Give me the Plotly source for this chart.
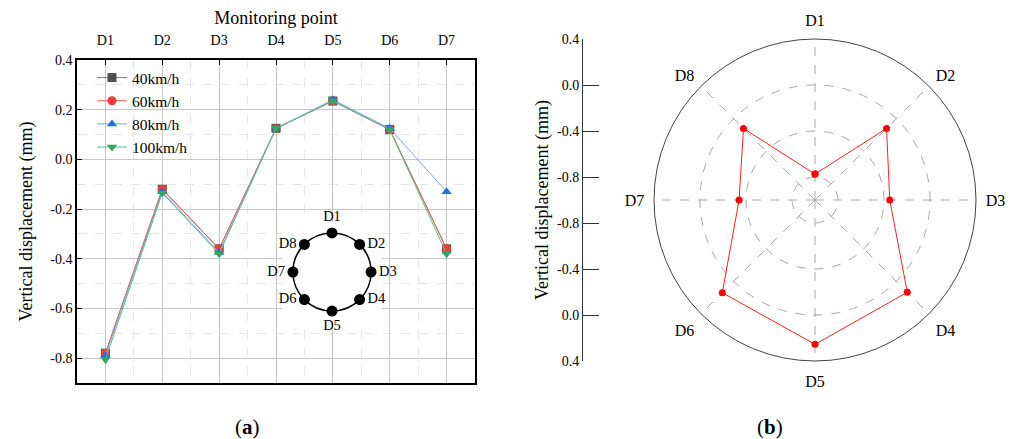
import numpy as np
import plotly.graph_objects as go

# ---------------- data ----------------
points = ["D1", "D2", "D3", "D4", "D5", "D6", "D7"]
s40 = [-0.78, -0.12, -0.36, 0.125, 0.235, 0.12, -0.36]
s60 = [-0.78, -0.12, -0.36, 0.125, 0.235, 0.12, -0.36]
s80 = [-0.79, -0.13, -0.375, 0.125, 0.24, 0.125, -0.13]
s100 = [-0.805, -0.135, -0.38, 0.125, 0.235, 0.12, -0.38]
series_names = ["40km/h", "60km/h", "80km/h", "100km/h"]
y_ticks = [0.4, 0.2, 0.0, -0.2, -0.4, -0.6, -0.8]

ring_points = ["D1", "D2", "D3", "D4", "D5", "D6", "D7", "D8"]
ring_angles_deg = [90, 45, 0, -45, -90, -135, 180, 135]
ring_text_pos = ["top center", "middle right", "middle right", "middle right",
                 "bottom center", "middle left", "middle left", "middle left"]

radar_theta = ["D1", "D2", "D3", "D4", "D5", "D6", "D7", "D8"]
radar_r = [-0.775, -0.12, -0.35, 0.135, 0.255, 0.14, -0.34, -0.12]
radar_grid = [-0.8, -0.4, 0.0]
radar_range = [-1.0, 0.4]
side_tick_vals = [0.4, 0.0, -0.4, -0.8]

FONT = "Liberation Serif"

fig = go.Figure()

xs = list(range(len(points)))
styles = [
    dict(color="#505050", line="#7a7a7a", symbol="square"),
    dict(color="#f03c3c", line="#f06060", symbol="circle"),
    dict(color="#1f6fe0", line="#7aa8ee", symbol="triangle-up"),
    dict(color="#30a860", line="#5cc088", symbol="triangle-down"),
]
for name, vals, st in zip(series_names, [s40, s60, s80, s100], styles):
    fig.add_trace(go.Scatter(
        x=xs, y=vals, name=name, mode="lines+markers",
        line=dict(color=st["line"], width=1),
        marker=dict(color=st["color"], symbol=st["symbol"], size=9),
        xaxis="x", yaxis="y",
    ))

# inset ring schematic
ang = np.deg2rad(ring_angles_deg)
fig.add_trace(go.Scatter(
    x=np.cos(ang), y=np.sin(ang), text=ring_points, mode="markers+text",
    textposition=ring_text_pos, textfont=dict(family=FONT, size=14.5, color="black"),
    marker=dict(color="black", size=11), showlegend=False, hoverinfo="skip",
    xaxis="x3", yaxis="y3", cliponaxis=False,
))
fig.add_shape(type="circle", xref="x3", yref="y3", x0=-1, y0=-1, x1=1, y1=1,
              line=dict(color="black", width=1.5), layer="below")

# radar
fig.add_trace(go.Scatterpolar(
    r=radar_r + radar_r[:1], theta=radar_theta + radar_theta[:1],
    mode="lines+markers", line=dict(color="#ff2020", width=1),
    marker=dict(color="#ff0000", size=7), showlegend=False,
))

# helper axis for radar scale
side_pos = [v - radar_range[0] for v in side_tick_vals]
side_vals = side_pos + [-p for p in reversed(side_pos)]
side_text = ["%.1f" % v for v in side_tick_vals] + ["%.1f" % v for v in reversed(side_tick_vals)]
fig.add_trace(go.Scatter(x=[0], y=[0], mode="markers", marker=dict(opacity=0),
                         showlegend=False, hoverinfo="skip", xaxis="x2", yaxis="y2"))

W, H = 1016, 439
OFF = 8  # page body margin offset
px_x = lambda p: (p - OFF) / W
px_y = lambda p: (H - (p - OFF)) / H

fig.update_layout(
    width=W, height=H, margin=dict(l=0, r=0, t=0, b=0, autoexpand=False),
    paper_bgcolor="white", plot_bgcolor="white",
    font=dict(family=FONT, size=14, color="black"),
    xaxis=dict(
        domain=[px_x(77), px_x(475)], range=[-0.5, 6.5], side="top", automargin=False,
        tickmode="array", tickvals=xs, ticktext=points, ticklabelstandoff=8,
        showline=True, linecolor="black", linewidth=1.5, mirror=True,
        ticks="inside", ticklen=5, tickcolor="black",
        showgrid=True, gridcolor="#c8c8c8", gridwidth=1,
        minor=dict(tickmode="linear", tick0=0, dtick=0.5, showgrid=True,
                   gridcolor="#e6e6e6", griddash="dash", ticks=""),
        title=dict(text="Monitoring point", font=dict(size=18), standoff=5),
        zeroline=False, anchor="y",
    ),
    yaxis=dict(
        domain=[px_y(383), px_y(60)], range=[-0.9, 0.4], automargin=False,
        tickmode="array", tickvals=y_ticks, ticktext=["%.1f" % v for v in y_ticks],
        showline=True, linecolor="black", linewidth=1.5, mirror=True,
        ticks="inside", ticklen=5, tickcolor="black",
        showgrid=True, gridcolor="#c8c8c8", gridwidth=1,
        minor=dict(tickmode="linear", tick0=0, dtick=0.1, showgrid=True,
                   gridcolor="#e6e6e6", griddash="dash", ticks=""),
        title=dict(text="Vertical displacement (mm)", font=dict(size=18), standoff=13),
        zeroline=False, anchor="x",
    ),
    xaxis3=dict(domain=[px_x(282), px_x(382)], range=[-1.28, 1.28], visible=False,
                anchor="y3", fixedrange=True, automargin=False),
    yaxis3=dict(domain=[px_y(322), px_y(222)], range=[-1.28, 1.28], visible=False,
                anchor="x3", fixedrange=True, automargin=False),
    xaxis2=dict(domain=[px_x(583), px_x(600)], visible=False, anchor="y2", range=[0, 1],
                automargin=False),
    yaxis2=dict(
        domain=[px_y(361), px_y(39)], range=[-1.4, 1.4], anchor="x2", automargin=False,
        tickmode="array", tickvals=side_vals, ticktext=side_text,
        showline=True, linecolor="#333", linewidth=1, ticks="inside", ticklen=16,
        tickcolor="#333", showgrid=False, zeroline=False,
        title=dict(text="Vertical displacement (mm)", font=dict(size=18), standoff=3),
    ),
    polar=dict(
        domain=dict(x=[px_x(654), px_x(976)], y=[px_y(361), px_y(39)]),
        bgcolor="white",
        angularaxis=dict(direction="clockwise", rotation=90, type="category",
                         categoryarray=radar_theta, showgrid=True, gridcolor="#a8a8a8",
                         griddash="dash", showline=True, linecolor="#444", linewidth=1,
                         ticks="outside", ticklen=6, tickcolor="rgba(0,0,0,0)",
                         tickfont=dict(size=16)),
        radialaxis=dict(range=radar_range, tickvals=radar_grid, showticklabels=False,
                        showline=False, ticks="", gridcolor="#a8a8a8", griddash="dash"),
    ),
    legend=dict(x=px_x(92), y=px_y(61), xanchor="left", yanchor="top",
                bgcolor="rgba(0,0,0,0)", font=dict(size=15.5), tracegroupgap=0),
    annotations=[
        dict(text="(<b>a</b>)", x=px_x(247), y=px_y(427), xref="paper", yref="paper",
             xanchor="center", yanchor="middle", showarrow=False, font=dict(size=21)),
        dict(text="(<b>b</b>)", x=px_x(770), y=px_y(427), xref="paper", yref="paper",
             xanchor="center", yanchor="middle", showarrow=False, font=dict(size=21)),
    ],
)

fig.write_html("out.html")
